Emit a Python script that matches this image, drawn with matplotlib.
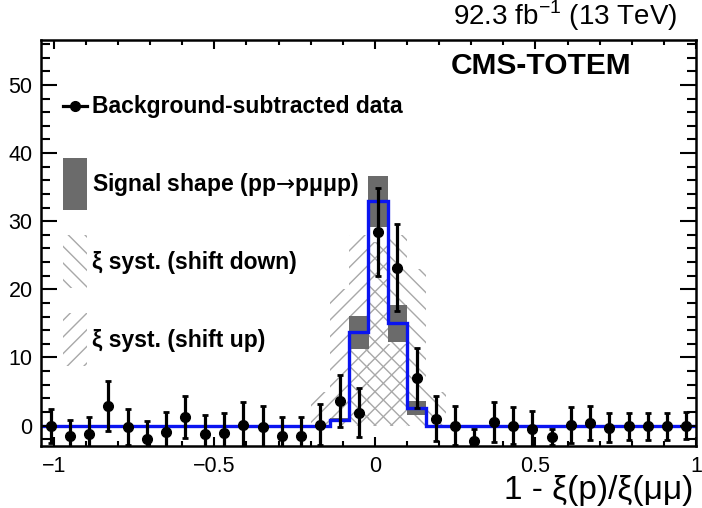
import numpy as np
import matplotlib
matplotlib.use("Agg")
import matplotlib.pyplot as plt
from matplotlib.lines import Line2D
from matplotlib.patches import Patch
from matplotlib.legend_handler import HandlerLine2D
from matplotlib.ticker import MultipleLocator, FuncFormatter

plt.rcParams['font.family'] = ['Liberation Sans', 'DejaVu Sans']
plt.rcParams['mathtext.fontset'] = 'dejavusans'
plt.rcParams['hatch.linewidth'] = 1.0

# binning in 1 - xi(p)/xi(mumu)
bin_edges = np.round(np.arange(-1.04, 1.0001, 0.06), 2)

# background-subtracted data, one entry per bin
data_val = [0.0, -1.5, -1.3, 2.9, -0.2, -2.0, -1.0, 1.3, -1.3, -1.1,
            0.1, -0.2, -1.6, -1.6, 0.1, 3.6, 1.9, 28.4, 23.2, 7.0,
            1.0, 0.0, -2.3, 0.5, 0.0, -0.5, -1.7, 0.1, 0.4, -0.3,
            -0.1, -0.1, -0.1, 0.0]
data_err = [2.5, 2.3, 2.6, 3.7, 2.7, 2.6, 3.0, 3.1, 2.8, 2.9,
            3.3, 3.1, 2.9, 2.9, 3.0, 3.8, 3.6, 6.5, 6.4, 4.4,
            3.3, 2.9, 1.8, 2.9, 2.7, 2.6, 1.2, 2.6, 2.5, 2.1,
            2.0, 2.0, 2.0, 2.0]

# signal template and its uncertainty
signal_val = [0] * 15 + [0.8, 13.7, 32.9, 15.0, 2.6] + [0] * 14
signal_err = [0] * 15 + [0.3, 2.4, 3.7, 2.7, 1.0] + [0] * 14

# xi scale systematic: shifted templates
shift_up = [0] * 14 + [5, 20, 28, 27, 12] + [0] * 15
shift_down = [0] * 16 + [12, 27, 28, 23, 5] + [0] * 13

centers = 0.5 * (bin_edges[:-1] + bin_edges[1:])
width = bin_edges[1] - bin_edges[0]


class LowerLineHandler(HandlerLine2D):
    # put the data marker level with the label text
    def create_artists(self, legend, orig_handle, xdescent, ydescent,
                       width, height, fontsize, trans):
        return super().create_artists(legend, orig_handle, xdescent, ydescent,
                                      width, height - 14, fontsize, trans)


fig = plt.figure(figsize=(7.02, 5.08), dpi=100)
ax = fig.add_axes([41 / 702, 1 - 446 / 508, 655 / 702, 406 / 508])

hatch_col = '#a8a8a8'
gray = '#6b6b6b'
blue = '#0a14f0'

ax.bar(centers, shift_up, width=width, facecolor='none', edgecolor=hatch_col,
       linewidth=0, hatch='//')
ax.bar(centers, shift_down, width=width, facecolor='none', edgecolor=hatch_col,
       linewidth=0, hatch='\\\\')

sig = np.array(signal_val, float)
sig_e = np.array(signal_err, float)
ax.bar(centers, 2 * sig_e, bottom=sig - sig_e, width=width, color=gray,
       linewidth=0)
ax.stairs(sig, bin_edges, color=blue, linewidth=2.4, baseline=None)

ax.errorbar(centers, data_val, yerr=data_err, fmt='o', color='black',
            markersize=7, elinewidth=2.3, capsize=2.2, capthick=2.0, zorder=5)

ax.set_xlim(-1.04, 1.0)
ax.set_ylim(-3, 56.6)

ax.xaxis.set_major_locator(MultipleLocator(0.5))
ax.xaxis.set_minor_locator(MultipleLocator(0.1))
ax.yaxis.set_major_locator(MultipleLocator(10))
ax.yaxis.set_minor_locator(MultipleLocator(2))
ax.xaxis.set_major_formatter(FuncFormatter(lambda v, p: f"{v:g}".replace('-', '\u2212')))
ax.tick_params(axis='both', which='both', direction='in', top=True, right=True,
               width=1.5, labelsize=15.5)
ax.tick_params(axis='x', which='major', length=6.7, pad=7)
ax.tick_params(axis='x', which='minor', length=3.3)
ax.tick_params(axis='y', which='major', length=11.5, pad=6)
ax.tick_params(axis='y', which='minor', length=6.5)
for s in ax.spines.values():
    s.set_linewidth(1.8)

ax.text(0.996, -0.1305, '1 - \u03be(p)/\u03be(\u03bc\u03bc)', transform=ax.transAxes,
        ha='right', va='baseline', fontsize=24)
ax.text(0.971, 1.037, r'92.3 fb$^{\mathregular{-1}}$ (13 TeV)', transform=ax.transAxes,
        ha='right', va='baseline', fontsize=20)
ax.text(0.902, 0.916, 'CMS-TOTEM', transform=ax.transAxes,
        ha='right', va='baseline', fontsize=21.5, fontweight='bold')

data_handle = Line2D([], [], color='black', marker='o', markersize=7, linewidth=2.3)
handles = [
    data_handle,
    Patch(facecolor=gray, linewidth=0),
    Patch(facecolor='none', edgecolor=hatch_col, linewidth=0, hatch='\\\\'),
    Patch(facecolor='none', edgecolor=hatch_col, linewidth=0, hatch='//'),
]
labels = ['Background-subtracted data',
          'Signal shape (pp$\u2192$p\u03bc\u03bcp)',
          '\u03be syst. (shift down)',
          '\u03be syst. (shift up)']
ax.legend(handles, labels, loc='upper left', bbox_to_anchor=(0.034, 0.9026),
          frameon=False, borderpad=0, borderaxespad=0,
          prop={'size': 16.5, 'weight': 'bold'},
          handlelength=1.05, handleheight=3.18, handletextpad=0.2,
          labelspacing=1.09, handler_map={data_handle: LowerLineHandler()})

fig.savefig('out.png', dpi=100)
